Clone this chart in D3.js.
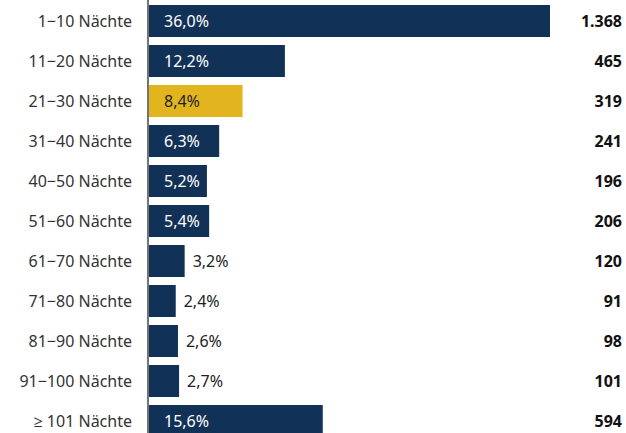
<!DOCTYPE html>
<html lang="de">
<head>
<meta charset="UTF-8">
<title>Nächte</title>
<style>
  body { margin: 0; padding: 0; background: #fff; }
  svg { display: block; font-family: "Noto Sans", "Open Sans", sans-serif; }
</style>
<script src="https://d3js.org/d3.v7.min.js"></script>
</head>
<body>
<div id="chart"></div>
<script>
const categories = ["1\u221210 Nächte", "11\u221220 Nächte", "21\u221230 Nächte", "31\u221240 Nächte",
  "40\u221250 Nächte", "51\u221260 Nächte", "61\u221270 Nächte", "71\u221280 Nächte",
  "81\u221290 Nächte", "91\u2212100 Nächte", "\u2265 101 Nächte"];
const shares = [36.0, 12.2, 8.4, 6.3, 5.2, 5.4, 3.2, 2.4, 2.6, 2.7, 15.6];
const counts = [1368, 465, 319, 241, 196, 206, 120, 91, 98, 101, 594];
const highlight = "21\u221230 Nächte";

const width = 626, height = 433;
const x0 = 149;
const svg = d3.select("#chart").append("svg")
  .attr("width", width)
  .attr("height", height);

const x = d3.scaleLinear().domain([0, 36]).range([x0, 550]);
const y = d3.scaleBand().domain(categories).range([1, 441]).paddingInner(0.2).paddingOuter(0.1);

const fmtPct = v => v.toFixed(1).replace(".", ",") + "%";
const fmtNum = v => v.toLocaleString("de-DE");

const rows = categories.map((c, i) => ({ cat: c, share: shares[i], count: counts[i] }));

svg.append("g")
  .selectAll("rect")
  .data(rows)
  .join("rect")
  .attr("x", x(0))
  .attr("y", d => y(d.cat))
  .attr("width", d => x(d.share) - x(0))
  .attr("height", y.bandwidth())
  .attr("fill", d => d.cat === highlight ? "#e2b51e" : "#123156");

// axis line
svg.append("line")
  .attr("x1", 148).attr("x2", 148)
  .attr("y1", 0).attr("y2", height)
  .attr("stroke", "#444").attr("stroke-width", 1.5);

// category labels
svg.append("g")
  .selectAll("text")
  .data(rows)
  .join("text")
  .attr("x", 132)
  .attr("y", d => y(d.cat) + y.bandwidth() / 2)
  .attr("dy", "0.35em")
  .attr("text-anchor", "end")
  .attr("font-size", 16)
  .attr("fill", "#333")
  .text(d => d.cat);

// percentage labels
svg.append("g")
  .selectAll("text")
  .data(rows)
  .join("text")
  .attr("x", d => d.share >= 5 ? x(0) + 15 : x(d.share) + 8)
  .attr("y", d => y(d.cat) + y.bandwidth() / 2)
  .attr("dy", "0.35em")
  .attr("font-size", 16)
  .attr("fill", d => d.share < 5 || d.cat === highlight ? "#222" : "#fff")
  .text(d => fmtPct(d.share));

// count labels
svg.append("g")
  .selectAll("text")
  .data(rows)
  .join("text")
  .attr("x", 622)
  .attr("y", d => y(d.cat) + y.bandwidth() / 2)
  .attr("dy", "0.35em")
  .attr("text-anchor", "end")
  .attr("font-size", 16)
  .attr("font-weight", "bold")
  .attr("fill", "#111")
  .text(d => fmtNum(d.count));
</script>
</body>
</html>
